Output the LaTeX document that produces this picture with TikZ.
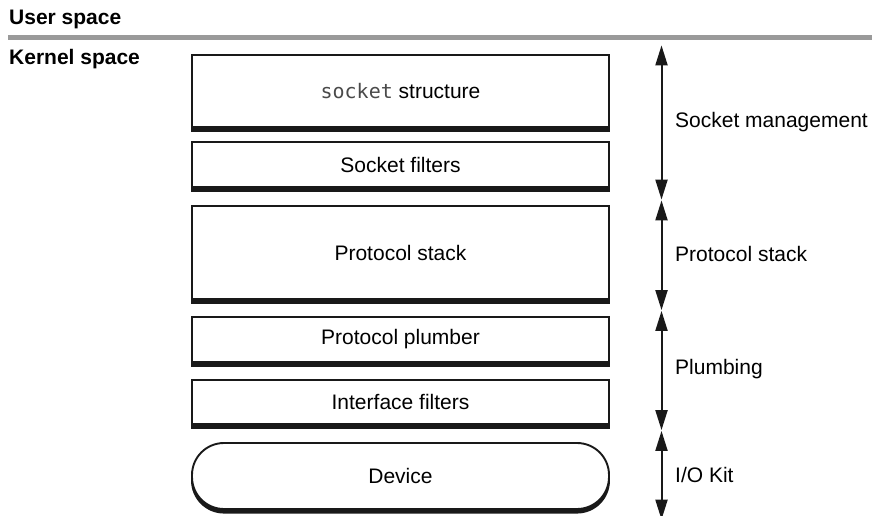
\documentclass[tikz,border=0pt]{standalone}
\usepackage{fontspec}
\setmainfont{Liberation Sans}
\newfontfamily\codefont{DejaVu Sans Mono}
\usetikzlibrary{arrows.meta}

\definecolor{rulegray}{HTML}{9A9A9A}
\definecolor{codegray}{HTML}{4A4A4A}

\tikzset{
  layer/.style={draw=black!90, line width=1.9pt, fill=white,
    minimum width=417pt, inner sep=0pt,
    font=\fontsize{21}{25}\selectfont},
  backing/.style={draw=black!90, line width=1.9pt, fill=black!90,
    minimum width=417pt, inner sep=0pt},
  rounded end/.style={rounded corners=32pt},
  region/.style={font=\fontsize{21}{25}\selectfont, anchor=west, inner sep=0pt},
  spacelabel/.style={font=\fontsize{21}{25}\selectfont\bfseries, anchor=west, inner sep=0pt},
  span/.style={{Triangle[length=20pt,width=12pt]}-{Triangle[length=20pt,width=12pt]},
    line width=2pt, black!90, shorten <=0.4pt, shorten >=0.4pt}
}

% a layer box with a solid backing that shows as a heavy bottom edge
\newcommand{\stacklayer}[5][]{%
  \node[backing, #1, minimum height=#4] (#2-back) at (400.5,#3+3.6) {};
  \node[layer, #1, minimum height=#4] (#2) at (400.5,#3) {#5};
}

\begin{document}
\begin{tikzpicture}[x=1pt, y=-1pt]
  \useasboundingbox (0,0) rectangle (872,516);
  \clip (0,0) rectangle (872,516);

  % user / kernel boundary
  \node[spacelabel] (user) at (9,19.5) {User space};
  \coordinate (ruleL) at (8,37.5);
  \coordinate (ruleR) at (872,37.5);
  \draw[rulegray, line width=5pt] (ruleL) -- (ruleR);
  \node[spacelabel] (kernel) at (9,59) {Kernel space};

  % layers of the networking stack
  \stacklayer{sock}{91}{72pt}
    {{\codefont\fontsize{20}{24}\selectfont\color{codegray}socket} structure}
  \stacklayer{sfilt}{164.5}{45pt}{Socket filters}
  \stacklayer{proto}{252.5}{93pt}{Protocol stack}
  \stacklayer{plumb}{339.5}{45pt}{Protocol plumber}
  \stacklayer{ifilt}{402}{44pt}{Interface filters}
  \stacklayer[rounded end]{dev}{476}{66pt}{Device}

  % extents of each subsystem
  \coordinate (a0) at (661.5,45);
  \coordinate (a1) at (661.5,200);
  \coordinate (a2) at (661.5,310.5);
  \coordinate (a3) at (661.5,430.5);
  \coordinate (a4) at (661.5,520);
  \draw[span] (a0) -- (a1);
  \draw[span] (a1) -- (a2);
  \draw[span] (a2) -- (a3);
  \draw[span] (a3) -- (a4);

  \node[region] (lmgmt) at (675,122) {Socket management};
  \node[region] (lproto) at (675,254) {Protocol stack};
  \node[region] (lplumb) at (675,369) {Plumbing};
  \node[region] (lkit) at (675,475) {I/O Kit};
\end{tikzpicture}
\end{document}
